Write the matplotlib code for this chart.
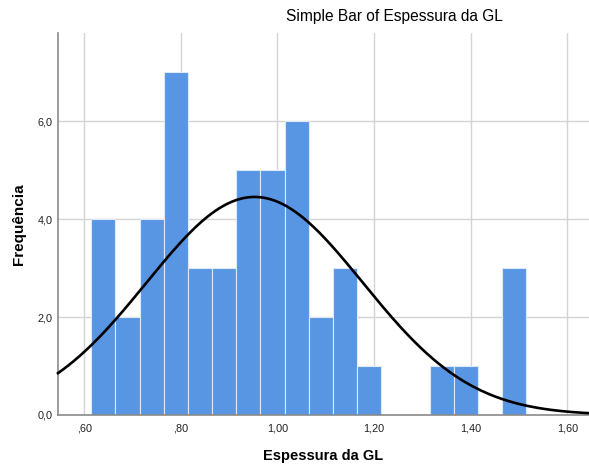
import numpy as np
import matplotlib
matplotlib.use('Agg')
import matplotlib.pyplot as plt
from matplotlib.ticker import FuncFormatter

plt.rcParams['font.family'] = ['Liberation Sans', 'DejaVu Sans']

# ── Data: bar centres (0.05 wide) and counts, N = 50 ──────────────────────────
bin_centres = [0.64, 0.69, 0.74, 0.79, 0.84, 0.89, 0.94, 0.99, 1.04,
               1.09, 1.14, 1.19, 1.24, 1.29, 1.34, 1.39, 1.44, 1.49]
counts      = [4, 2, 4, 7, 3, 3, 5, 5, 6, 2, 3, 1, 0, 0, 1, 1, 0, 3]
bin_width   = 0.05

# normal curve parameters
curve_mean = 0.953
curve_sd   = 0.224

x_ticks = [0.60, 0.80, 1.00, 1.20, 1.40, 1.60]
y_ticks = [0, 2, 4, 6]

n_total = sum(counts)

def pt_comma(v, decimals):
    s = f'{v:.{decimals}f}'.replace('.', ',')
    if s.startswith('0,') and decimals == 2:
        s = s[1:]
    return s

# ── Plot ───────────────────────────────────────────────────────────────────────
fig = plt.figure(figsize=(5.89, 4.66), dpi=100)
ax = fig.add_axes([58 / 589, 51 / 466, 531 / 589, 382 / 466])

ax.set_axisbelow(True)
ax.grid(True, color='#d4d4d4', lw=1.0)

ax.bar(bin_centres, counts, width=bin_width, color='#5896e3',
       edgecolor='#dde8f8', linewidth=0.8, zorder=2)

xs = np.linspace(0.546, 1.645, 400)
ys = (n_total * bin_width / (curve_sd * np.sqrt(2 * np.pi)) *
      np.exp(-0.5 * ((xs - curve_mean) / curve_sd) ** 2))
ax.plot(xs, ys, color='black', lw=1.9, zorder=3, clip_on=False)

ax.set_xlim(0.546, 1.645)
ax.set_ylim(0, 7.8)
ax.set_xticks(x_ticks)
ax.set_yticks(y_ticks)
ax.xaxis.set_major_formatter(FuncFormatter(lambda v, p: pt_comma(v, 2)))
ax.yaxis.set_major_formatter(FuncFormatter(lambda v, p: pt_comma(v, 1)))
ax.tick_params(length=0, labelsize=7.8, colors='#222222')
ax.tick_params(axis='x', pad=6)
ax.tick_params(axis='y', pad=4)

for side in ('top', 'right'):
    ax.spines[side].set_visible(False)
for side in ('left', 'bottom'):
    ax.spines[side].set_color('#8a8a8a')
    ax.spines[side].set_linewidth(1.2)

ax.set_xlabel('Espessura da GL', fontsize=10.5, fontweight='bold', labelpad=11)
ax.set_ylabel('Frequência', fontsize=11, fontweight='bold', labelpad=8)

fig.text(394 / 589, 1 - 17 / 466, 'Simple Bar of Espessura da GL',
         ha='center', va='center', fontsize=11.2)

fig.savefig('out.png', dpi=100)
